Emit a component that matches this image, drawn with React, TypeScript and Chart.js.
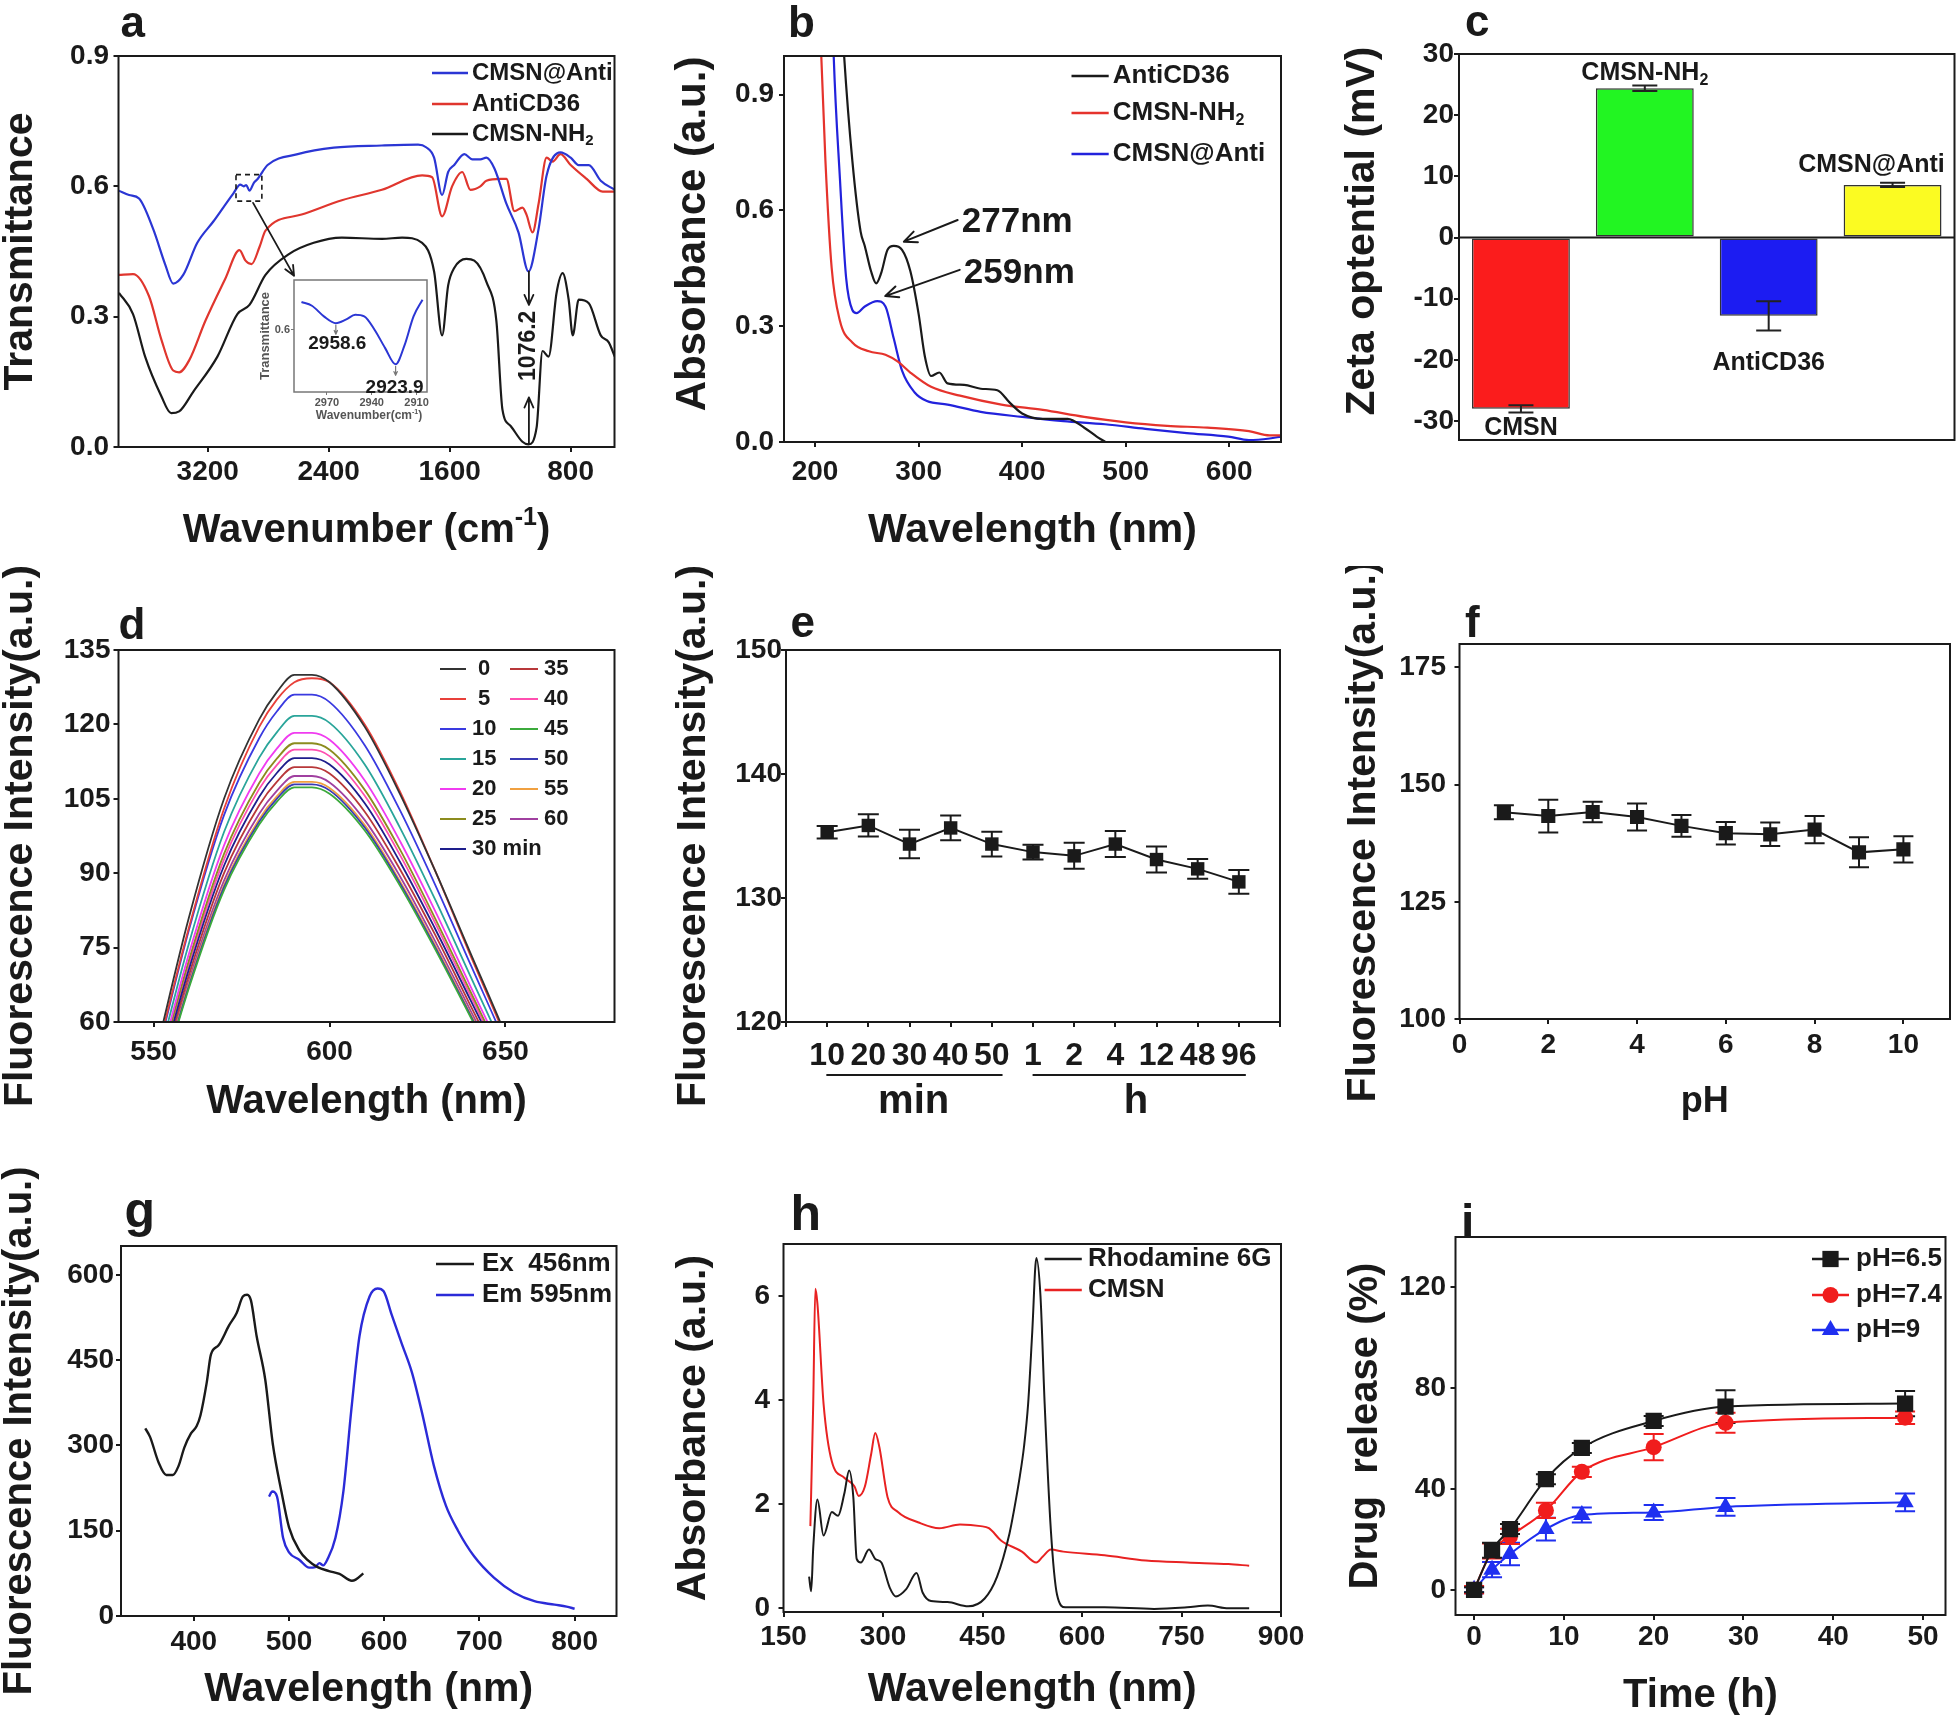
import React, { useEffect, useRef } from 'react';
import { Chart, registerables } from 'chart.js';

Chart.register(...registerables);

const FONT = '"Liberation Sans", Arial, Helvetica, sans-serif';
Chart.defaults.font.family = FONT;
const INK = '#1a1a1a';

/* ============================ DATA ============================ */

// (a) FTIR — wavenumber (cm-1) vs transmittance
const aTickX = [3200, 2400, 1600, 800];
const aTickY = [0, 0.3, 0.6, 0.9];
const aNames = ['CMSN@Anti', 'AntiCD36', 'CMSN-NH2'];
const aBlueX = [3787, 3720, 3654, 3561, 3481, 3428, 3362, 3269, 3163, 3030, 2985, 2962, 2945, 2924, 2895, 2870, 2804, 2605, 2366, 2048, 1809, 1756, 1703, 1650, 1610, 1570, 1503, 1450, 1397, 1357, 1304, 1225, 1145, 1079, 1012, 959, 867, 800, 747, 680, 601, 508];
const aBlueY = [0.59, 0.58, 0.572, 0.502, 0.42, 0.376, 0.396, 0.47, 0.519, 0.584, 0.604, 0.6, 0.603, 0.59, 0.608, 0.617, 0.649, 0.674, 0.689, 0.694, 0.696, 0.69, 0.666, 0.58, 0.633, 0.649, 0.674, 0.662, 0.662, 0.666, 0.641, 0.56, 0.494, 0.404, 0.502, 0.625, 0.678, 0.666, 0.649, 0.649, 0.613, 0.592];
const aRedX = [3787, 3694, 3588, 3508, 3428, 3389, 3322, 3216, 3083, 2990, 2950, 2910, 2857, 2818, 2579, 2313, 2048, 1782, 1716, 1650, 1584, 1517, 1463, 1397, 1357, 1264, 1225, 1172, 1119, 1092, 1052, 1012, 959, 919, 867, 800, 694, 588, 508];
const aRedY = [0.396, 0.398, 0.347, 0.249, 0.176, 0.172, 0.2, 0.29, 0.388, 0.453, 0.429, 0.421, 0.461, 0.498, 0.535, 0.568, 0.592, 0.625, 0.621, 0.531, 0.6, 0.633, 0.592, 0.6, 0.613, 0.617, 0.617, 0.543, 0.551, 0.535, 0.494, 0.56, 0.666, 0.657, 0.674, 0.649, 0.617, 0.588, 0.588];
const aBlackX = [3787, 3694, 3614, 3508, 3442, 3389, 3296, 3136, 3004, 2924, 2818, 2658, 2499, 2313, 2048, 1915, 1782, 1703, 1650, 1610, 1570, 1490, 1437, 1357, 1291, 1251, 1198, 1119, 1079, 1025, 986, 946, 893, 853, 813, 786, 747, 680, 601, 548, 508];
const aBlackY = [0.355, 0.306, 0.208, 0.118, 0.078, 0.082, 0.127, 0.208, 0.306, 0.327, 0.396, 0.445, 0.47, 0.482, 0.479, 0.482, 0.47, 0.404, 0.257, 0.372, 0.412, 0.433, 0.429, 0.38, 0.29, 0.086, 0.049, 0.012, 0.006, 0.045, 0.221, 0.208, 0.355, 0.4, 0.339, 0.257, 0.339, 0.331, 0.257, 0.241, 0.208];
const aPeakLabel = '1076.2';
// (a) inset
const inTickX = [2970, 2940, 2910];
const inTickY = [0.6];
const inX = [2987, 2980, 2972, 2964, 2957, 2951, 2945, 2938, 2931, 2924, 2918, 2912, 2906];
const inY = [0.6185, 0.616, 0.609, 0.6045, 0.607, 0.61, 0.609, 0.6, 0.588, 0.5773, 0.59, 0.609, 0.62];
const inPeakLabels = ['2958.6', '2923.9'];

// (b) UV-vis absorbance
const bTickX = [200, 300, 400, 500, 600];
const bTickY = [0, 0.3, 0.6, 0.9];
const bNames = ['AntiCD36', 'CMSN-NH2', 'CMSN@Anti'];
const bAntiX = [226, 228, 236, 244, 248, 254, 259, 264, 270, 276, 284, 292, 300, 306, 312, 320, 328, 344, 360, 376, 388, 400, 420, 444, 460, 472, 483, 500];
const bAntiY = [1.1, 1.003, 0.729, 0.545, 0.508, 0.443, 0.411, 0.439, 0.498, 0.508, 0.498, 0.443, 0.332, 0.222, 0.171, 0.18, 0.152, 0.148, 0.138, 0.134, 0.102, 0.074, 0.06, 0.06, 0.037, 0.014, -0.005, -0.046];
const bNhX = [205, 206, 210, 216, 224, 236, 252, 268, 280, 292, 312, 340, 380, 420, 460, 500, 540, 579, 619, 639, 650];
const bNhY = [1.1, 1.0, 0.729, 0.452, 0.314, 0.258, 0.235, 0.226, 0.208, 0.18, 0.143, 0.12, 0.097, 0.083, 0.065, 0.051, 0.042, 0.037, 0.028, 0.017, 0.017];
const bConjX = [217, 218, 224, 230, 236, 240, 248, 260, 268, 276, 284, 296, 308, 328, 360, 400, 440, 480, 519, 559, 599, 619, 639, 650];
const bConjY = [1.1, 1.0, 0.683, 0.425, 0.342, 0.334, 0.351, 0.365, 0.351, 0.268, 0.185, 0.129, 0.106, 0.097, 0.078, 0.065, 0.054, 0.046, 0.034, 0.023, 0.014, 0.005, 0.009, 0.014];
const bPeakLabels = ['277nm', '259nm'];

// (c) zeta potential
const cCategories = ['CMSN', 'CMSN-NH2', 'AntiCD36', 'CMSN@Anti'];
const cValues = [-28.0, 24.4, -12.8, 8.6];
const cErrors = [0.6, 0.45, 2.4, 0.35];
const cTickY = [-30, -20, -10, 0, 10, 20, 30];

// (d) fluorescence spectra over time
const dTickX = [550, 600, 650];
const dTickY = [60, 75, 90, 105, 120, 135];
const dLabels = ['0', '5', '10', '15', '20', '25', '30', '35', '40', '45', '50', '55', '60'];
const dX = [540, 550, 560, 570, 580, 585, 590, 595, 600, 610, 620, 630, 640, 650, 660];
const d0 = [24, 52, 81, 105, 121, 126.5, 130, 130, 128.5, 119.5, 106, 90.5, 74, 57.5, 40];
const d5 = [24, 51, 79, 103, 119.5, 125, 128.5, 129.3, 128.5, 120, 106.5, 90.5, 73.5, 57, 40];
const d10 = [23.3, 50.4, 78.5, 101.7, 117.2, 122.6, 126, 126, 124.5, 115.8, 102.7, 87.7, 71.7, 55.7, 38.8];
const d15 = [22.5, 48.7, 75.8, 98.3, 113.3, 118.4, 121.7, 121.7, 120.3, 111.9, 99.2, 84.7, 69.3, 53.8, 37.4];
const d20 = [21.8, 47.3, 73.7, 95.6, 110.1, 115.1, 118.3, 118.3, 116.9, 108.7, 96.5, 82.4, 67.3, 52.3, 36.4];
const d25 = [21.5, 46.5, 72.4, 93.9, 108.2, 113.1, 116.2, 116.2, 114.9, 106.8, 94.8, 80.9, 66.2, 51.4, 35.8];
const d30 = [20.9, 45.3, 70.6, 91.5, 105.4, 110.2, 113.2, 113.2, 111.9, 104.1, 92.3, 78.8, 64.5, 50.1, 34.8];
const d35 = [20.6, 44.6, 69.4, 90, 103.7, 108.4, 111.4, 111.4, 110.1, 102.4, 90.8, 77.6, 63.4, 49.3, 34.3];
const d40 = [21.2, 46, 71.6, 92.8, 107, 111.8, 114.9, 114.9, 113.6, 105.6, 93.7, 80, 65.4, 50.8, 35.4];
const d45 = [19.8, 42.9, 66.8, 86.6, 99.8, 104.4, 107.3, 107.3, 106, 98.6, 87.5, 74.7, 61.1, 47.4, 33];
const d50 = [19.9, 43.2, 67.2, 87.2, 100.4, 105, 107.9, 107.9, 106.7, 99.2, 88, 75.1, 61.4, 47.7, 33.2];
const d55 = [20, 43.4, 67.6, 87.6, 100.9, 105.5, 108.4, 108.4, 107.2, 99.7, 88.4, 75.5, 61.7, 48, 33.4];
const d60 = [20.2, 43.8, 68.3, 88.5, 102, 106.6, 109.6, 109.6, 108.3, 100.7, 89.4, 76.3, 62.4, 48.5, 33.7];
const dSeries = [d0, d5, d10, d15, d20, d25, d30, d35, d40, d45, d50, d55, d60];

// (e) stability over time
const eLabels = ['10', '20', '30', '40', '50', '1', '2', '4', '12', '48', '96'];
const eValues = [135.3, 135.85, 134.35, 135.65, 134.35, 133.7, 133.4, 134.35, 133.1, 132.35, 131.3];
const eErrors = [0.5, 0.9, 1.15, 1.0, 1.0, 0.6, 1.05, 1.05, 1.05, 0.8, 0.95];
const eTickY = [120, 130, 140, 150];
const eGroups = ['min', 'h'];

// (f) stability vs pH
const fPH = [1, 2, 3, 4, 5, 6, 7, 8, 9, 10];
const fValues = [144.1, 143.3, 144.15, 143.1, 141.2, 139.65, 139.4, 140.4, 135.55, 136.2];
const fErrors = [1.5, 3.5, 2.2, 2.9, 2.3, 2.4, 2.5, 2.9, 3.2, 2.8];
const fTickX = [0, 2, 4, 6, 8, 10];
const fTickY = [100, 125, 150, 175];

// (g) excitation / emission
const gTickX = [400, 500, 600, 700, 800];
const gTickY = [0, 150, 300, 450, 600];
const gNames = ['Ex  456nm', 'Em 595nm'];
const gExX = [349, 354, 363, 371, 378, 384, 390, 397, 403, 407, 413.5, 418, 426, 437, 445, 451.5, 456, 460, 466, 475, 483, 492, 500, 511, 519, 530, 542, 553, 566, 570, 578];
const gExY = [330, 315, 270, 248, 248, 264, 296, 321, 334, 353, 410, 460, 476, 511, 533, 562, 565, 555, 492, 416, 302, 219, 156, 115, 99, 86, 79, 74, 62, 64, 75];
const gEmX = [479, 482.4, 487.4, 493.8, 500, 510.7, 521.2, 527.6, 531.8, 536, 540.2, 548.7, 557.1, 565.6, 574, 584.6, 593, 599.4, 607.8, 618.4, 629, 639.5, 652.2, 664.8, 677.5, 694.4, 715.5, 736.6, 757.8, 778.9, 791.6, 800];
const gEmY = [210, 219, 210, 137, 112, 99, 85, 86, 93, 89, 99, 137, 219, 365, 492, 562, 576, 571, 530, 479, 429, 359, 264, 194, 150, 105, 67, 41, 26, 20, 16.5, 12.7];

// (h) absorbance of Rhodamine 6G and CMSN
const hTickX = [150, 300, 450, 600, 750, 900];
const hTickY = [0, 2, 4, 6];
const hNames = ['Rhodamine 6G', 'CMSN'];
const hRhX = [188.6, 191.7, 194.8, 201.1, 210.4, 222.9, 232.2, 241.6, 249, 255.3, 260.3, 266.5, 278.9, 288.3, 297.6, 310.1, 319.4, 335, 350.6, 359.9, 372.4, 397.3, 428.4, 453.3, 472, 490.7, 497, 506.3, 512.5, 518.8, 525, 531.2, 537.4, 543.7, 553, 562.4, 574.8, 634, 708.7, 758.6, 789.7, 820.9, 852];
const hRhY = [0.61, 0.33, 1.16, 2.09, 1.4, 1.85, 1.78, 2.2, 2.65, 2.13, 0.95, 0.88, 1.13, 0.95, 0.88, 0.4, 0.23, 0.37, 0.68, 0.3, 0.14, 0.12, 0.04, 0.19, 0.61, 1.44, 1.85, 2.54, 3.1, 3.93, 5.31, 6.73, 6.0, 3.93, 1.51, 0.26, 0.02, 0.02, -0.01, 0.02, 0.055, 0.0, 0.0];
const hCmX = [190.5, 194.8, 198, 201.1, 210.4, 222.9, 241.6, 257.1, 263.4, 272.7, 282.1, 288.3, 294.5, 307, 322.5, 353.7, 384.8, 416, 447.1, 459.6, 478.3, 509.4, 531.2, 540.6, 553, 571.7, 634, 696.3, 758.6, 820.9, 852];
const hCmY = [1.58, 3.93, 6.14, 5.86, 3.93, 2.82, 2.51, 2.34, 2.16, 2.34, 2.96, 3.37, 3.1, 2.13, 1.85, 1.65, 1.54, 1.61, 1.58, 1.54, 1.3, 1.09, 0.88, 0.99, 1.13, 1.09, 1.02, 0.92, 0.88, 0.85, 0.82];

// (i) drug release
const iTickX = [0, 10, 20, 30, 40, 50];
const iTickY = [0, 40, 80, 120];
const iNames = ['pH=6.5', 'pH=7.4', 'pH=9'];
const iTime = [0, 2, 4, 8, 12, 20, 28, 48];
const iPH65 = [0, 15.7, 24.1, 43.9, 56.3, 67.0, 72.7, 73.9];
const iPH74 = [0, 15.4, 21.2, 31.5, 46.8, 56.6, 66.3, 68.3];
const iPH9 = [0, 8.0, 14.2, 24.1, 29.7, 30.7, 32.9, 34.7];
const iErr65 = [1, 3, 2, 2, 2, 2, 6.5, 5];
const iErr74 = [1.5, 3, 3, 3, 2, 5.2, 4, 2.5];
const iErr9 = [1, 3, 4.5, 4.5, 3, 3, 3.5, 3.5];

/* ============================ HELPERS ============================ */

type Box = { x: number; y: number; w: number; h: number };
type Plot = { l: number; t: number; r: number; b: number };

const xy = (xs: number[], ys: number[]) => xs.map((x, i) => ({ x, y: ys[i] }));

function setFont(ctx: any, size: number) {
  ctx.font = `bold ${size}px ${FONT}`;
}

function txt(ctx: any, s: string, x: number, y: number, size: number, o: any = {}) {
  ctx.save();
  setFont(ctx, size);
  ctx.fillStyle = o.color || INK;
  ctx.textAlign = o.align || 'left';
  ctx.textBaseline = o.baseline || 'middle';
  ctx.translate(x, y);
  if (o.rotate) ctx.rotate(o.rotate);
  ctx.fillText(s, 0, 0);
  ctx.restore();
}

function chem(name: string) {
  const m = /^(.*[A-Z])(\d)$/.exec(name);
  return m ? [{ t: m[1] }, { t: m[2], sub: true }] : [{ t: name }];
}

function rich(ctx: any, parts: any[], x: number, y: number, size: number, align = 'left', color = INK) {
  ctx.save();
  ctx.fillStyle = color;
  ctx.textBaseline = 'middle';
  ctx.textAlign = 'left';
  const sm = Math.round(size * 0.62);
  const ws = parts.map((p) => {
    setFont(ctx, p.sub || p.sup ? sm : size);
    return ctx.measureText(p.t).width;
  });
  const total = ws.reduce((a: number, b: number) => a + b, 0);
  let cx = align === 'center' ? x - total / 2 : align === 'right' ? x - total : x;
  parts.forEach((p, i) => {
    setFont(ctx, p.sub || p.sup ? sm : size);
    ctx.fillText(p.t, cx, y + (p.sub ? size * 0.28 : p.sup ? -size * 0.32 : 0));
    cx += ws[i];
  });
  ctx.restore();
}

function arrow(ctx: any, x1: number, y1: number, x2: number, y2: number, head = 12, lw = 2, color = INK) {
  ctx.save();
  ctx.strokeStyle = color;
  ctx.lineWidth = lw;
  ctx.lineCap = 'round';
  ctx.lineJoin = 'round';
  ctx.beginPath();
  ctx.moveTo(x1, y1);
  ctx.lineTo(x2, y2);
  const a = Math.atan2(y2 - y1, x2 - x1);
  const k = 0.42;
  ctx.moveTo(x2 - head * Math.cos(a - k), y2 - head * Math.sin(a - k));
  ctx.lineTo(x2, y2);
  ctx.lineTo(x2 - head * Math.cos(a + k), y2 - head * Math.sin(a + k));
  ctx.stroke();
  ctx.restore();
}

function seg(ctx: any, x1: number, y1: number, x2: number, y2: number, color = INK, lw = 2.5) {
  ctx.save();
  ctx.strokeStyle = color;
  ctx.lineWidth = lw;
  ctx.beginPath();
  ctx.moveTo(x1, y1);
  ctx.lineTo(x2, y2);
  ctx.stroke();
  ctx.restore();
}

function marker(ctx: any, style: string, x: number, y: number, r: number, color: string) {
  ctx.save();
  ctx.fillStyle = color;
  ctx.beginPath();
  if (style === 'rect') {
    const s = Math.SQRT1_2 * r;
    ctx.rect(x - s, y - s, 2 * s, 2 * s);
  } else if (style === 'triangle') {
    for (let k = 0; k < 3; k++) {
      const ang = (k * 2 * Math.PI) / 3;
      const px = x + Math.sin(ang) * r;
      const py = y - Math.cos(ang) * r;
      if (k === 0) ctx.moveTo(px, py);
      else ctx.lineTo(px, py);
    }
    ctx.closePath();
  } else {
    ctx.arc(x, y, r, 0, Math.PI * 2);
  }
  ctx.fill();
  ctx.restore();
}

function errBars(chart: any, dsIndex: number, errs: number[], cap: number, color = INK, lw = 2) {
  const meta = chart.getDatasetMeta(dsIndex);
  const ys = chart.scales.y;
  const ctx = chart.ctx;
  const data = chart.data.datasets[dsIndex].data;
  ctx.save();
  ctx.strokeStyle = color;
  ctx.lineWidth = lw;
  meta.data.forEach((el: any, j: number) => {
    const d = data[j];
    const v = typeof d === 'number' ? d : d.y;
    const e = errs[j];
    if (!e) return;
    const x = el.x;
    const y1 = ys.getPixelForValue(v + e);
    const y2 = ys.getPixelForValue(v - e);
    ctx.beginPath();
    ctx.moveTo(x, y1);
    ctx.lineTo(x, y2);
    ctx.moveTo(x - cap / 2, y1);
    ctx.lineTo(x + cap / 2, y1);
    ctx.moveTo(x - cap / 2, y2);
    ctx.lineTo(x + cap / 2, y2);
    ctx.stroke();
  });
  ctx.restore();
}

const frame = (color = INK, lw = 2) => ({
  id: 'frame',
  afterDatasetsDraw(chart: any) {
    const { ctx, chartArea: a } = chart;
    ctx.save();
    ctx.strokeStyle = color;
    ctx.lineWidth = lw;
    ctx.strokeRect(a.left, a.top, a.right - a.left, a.bottom - a.top);
    ctx.restore();
  },
});

function baseOpts(box: Box, plot: Plot, wy: number, hx: number, scales: any) {
  return {
    responsive: false,
    maintainAspectRatio: false,
    animation: false,
    devicePixelRatio: 1,
    events: [],
    layout: {
      padding: {
        left: plot.l - box.x - wy,
        top: plot.t - box.y,
        right: box.x + box.w - plot.r,
        bottom: box.y + box.h - plot.b - hx,
      },
    },
    plugins: { legend: { display: false }, tooltip: { enabled: false }, title: { display: false } },
    scales,
  };
}

function axis(o: any, vertical: boolean) {
  const color = o.color || INK;
  const lw = o.lw ?? 2;
  return {
    type: 'linear',
    position: vertical ? 'left' : 'bottom',
    min: o.min,
    max: o.max,
    reverse: !!o.reverse,
    afterBuildTicks: (s: any) => {
      s.ticks = o.ticks.map((v: number) => ({ value: v }));
    },
    afterFit: (s: any) => {
      if (vertical) s.width = o.width;
      else s.height = o.height;
    },
    ticks: {
      autoSkip: false,
      maxRotation: 0,
      minRotation: 0,
      padding: o.pad,
      color,
      font: { family: FONT, size: o.size || 28, weight: 'bold', lineHeight: 1 },
      callback: o.fmt || ((v: number) => String(v)),
    },
    grid: { display: true, drawOnChartArea: false, drawTicks: true, tickLength: o.tl ?? 5, color: o.gridColor || INK, lineWidth: lw, tickWidth: lw },
    border: { display: false },
    title: o.title
      ? { display: true, text: o.title, color, padding: 0, font: { family: FONT, size: o.titleSize || 40, weight: 'bold', lineHeight: 1 } }
      : { display: false },
  };
}
const yLin = (o: any) => axis(o, true);
const xLin = (o: any) => axis(o, false);

const lineDs = (data: any[], color: string, lw = 2.2) => ({
  data,
  borderColor: color,
  backgroundColor: color,
  borderWidth: lw,
  pointRadius: 0,
  fill: false,
  cubicInterpolationMode: 'monotone',
});

const fix1 = (v: number) => v.toFixed(1);

/* ============================ PANELS ============================ */

const A_BLUE = '#2b36d4';
const A_RED = '#e0362e';

const BOX_A: Box = { x: 0, y: 0, w: 650, h: 562 };
const PLOT_A: Plot = { l: 118.5, t: 56, r: 614.5, b: 447 };
function configA() {
  const box = BOX_A, plot = PLOT_A;
  return {
    type: 'line',
    data: {
      datasets: [
        lineDs(xy(aBlueX, aBlueY), A_BLUE),
        lineDs(xy(aRedX, aRedY), A_RED),
        lineDs(xy(aBlackX, aBlackY), INK),
      ],
    },
    options: baseOpts(box, plot, 118.5, 104, {
      x: xLin({ min: 510, max: 3790, reverse: true, ticks: aTickX, pad: 6, height: 104 }),
      y: yLin({ min: 0, max: 0.9, ticks: aTickY, fmt: fix1, pad: 4.5, width: 118.5, title: 'Transmittance', titleSize: 41 }),
    }),
    plugins: [
      frame(),
      {
        id: 'decoA',
        afterDraw(chart: any) {
          const ctx = chart.ctx;
          const X = (v: number) => chart.scales.x.getPixelForValue(v);
          const Y = (v: number) => chart.scales.y.getPixelForValue(v);
          const ox = box.x, oy = box.y;
          txt(ctx, 'a', 120.5 - ox, 37 - oy, 44, { baseline: 'alphabetic' });
          const cols = [A_BLUE, A_RED, INK];
          const rows = [73, 104, 134];
          aNames.forEach((n, k) => {
            seg(ctx, 432 - ox, rows[k] - oy, 468 - ox, rows[k] - oy, cols[k], 2.5);
            rich(ctx, chem(n), 472 - ox, rows[k] - oy, 24);
          });
          rich(ctx, [{ t: 'Wavenumber (cm' }, { t: '-1', sup: true }, { t: ')' }], (plot.l + plot.r) / 2 - ox, 531 - oy, 40, 'center');
          ctx.save();
          ctx.setLineDash([5, 4]);
          ctx.strokeStyle = INK;
          ctx.lineWidth = 1.6;
          ctx.strokeRect(X(3013), Y(0.627), X(2842) - X(3013), Y(0.566) - Y(0.627));
          ctx.restore();
          arrow(ctx, X(2900), Y(0.562), X(2629), Y(0.394), 11, 1.8);
          txt(ctx, aPeakLabel, X(1076), Y(0.233), 23, { align: 'center', rotate: -Math.PI / 2 });
          arrow(ctx, X(1076), Y(0.404), X(1076), Y(0.327), 11, 1.8);
          arrow(ctx, X(1076), Y(0.008), X(1076), Y(0.114), 11, 1.8);
        },
      },
    ],
  };
}

const BOX_IN: Box = { x: 250, y: 268, w: 190, h: 158 };
const PLOT_IN: Plot = { l: 294, t: 280, r: 427, b: 392 };
function configInset() {
  const box = BOX_IN, plot = PLOT_IN;
  const GRAY = '#555';
  return {
    type: 'line',
    data: { datasets: [lineDs(xy(inX, inY), A_BLUE, 2)] },
    options: baseOpts(box, plot, 35.5, 30, {
      x: xLin({ min: 2903, max: 2992, reverse: true, ticks: inTickX, pad: 2.5, height: 30, size: 11, color: GRAY, gridColor: '#777', lw: 1, tl: 3 }),
      y: yLin({ min: 0.559, max: 0.633, ticks: inTickY, fmt: fix1, pad: 1, width: 35.5, size: 11, color: GRAY, gridColor: '#777', lw: 1, tl: 3, title: 'Transmittance', titleSize: 13 }),
    }),
    plugins: [
      frame('#777', 1.5),
      {
        id: 'decoIn',
        afterDraw(chart: any) {
          const ctx = chart.ctx;
          const X = (v: number) => chart.scales.x.getPixelForValue(v);
          const Y = (v: number) => chart.scales.y.getPixelForValue(v);
          const ox = box.x, oy = box.y;
          rich(ctx, [{ t: 'Wavenumber(cm' }, { t: '-1', sup: true }, { t: ')' }], 369 - ox, 416 - oy, 12, 'center', GRAY);
          arrow(ctx, X(2964), Y(0.6045) + 2, X(2964), Y(0.6045) + 11, 4, 1.2, '#777');
          arrow(ctx, X(2924), Y(0.5773) + 2, X(2924), Y(0.5773) + 11, 4, 1.2, '#777');
          txt(ctx, inPeakLabels[0], X(2963), Y(0.6045) + 21, 19, { align: 'center' });
          txt(ctx, inPeakLabels[1], X(2924) - 1, Y(0.5773) + 23, 19, { align: 'center' });
        },
      },
    ],
  };
}

const B_RED = '#e5332c';
const B_BLUE = '#2222dc';
const BOX_B: Box = { x: 650, y: 0, w: 670, h: 562 };
const PLOT_B: Plot = { l: 784, t: 56, r: 1281, b: 442 };
function configB() {
  const box = BOX_B, plot = PLOT_B;
  return {
    type: 'line',
    data: {
      datasets: [
        lineDs(xy(bAntiX, bAntiY), INK),
        lineDs(xy(bNhX, bNhY), B_RED),
        lineDs(xy(bConjX, bConjY), B_BLUE),
      ],
    },
    options: baseOpts(box, plot, 111, 109, {
      x: xLin({ min: 170, max: 650, ticks: bTickX, pad: 11, height: 109, title: 'Wavelength (nm)', titleSize: 41 }),
      y: yLin({ min: 0, max: 1.0, ticks: bTickY, fmt: fix1, pad: 5, width: 111 }),
    }),
    plugins: [
      frame(),
      {
        id: 'decoB',
        afterDraw(chart: any) {
          const ctx = chart.ctx;
          const X = (v: number) => chart.scales.x.getPixelForValue(v);
          const Y = (v: number) => chart.scales.y.getPixelForValue(v);
          const ox = box.x, oy = box.y;
          txt(ctx, 'b', 788 - ox, 37 - oy, 44, { baseline: 'alphabetic' });
          txt(ctx, 'Absorbance (a.u.)', 693 - ox, 234 - oy, 42, { align: 'center', rotate: -Math.PI / 2 });
          const cols = [INK, B_RED, B_BLUE];
          const rows = [76, 113, 154];
          bNames.forEach((n, k) => {
            seg(ctx, 1071.5 - ox, rows[k] - oy, 1108.7 - ox, rows[k] - oy, cols[k], 2.5);
            rich(ctx, chem(n), 1112.8 - ox, rows[k] - oy, 26);
          });
          arrow(ctx, X(337.7), Y(0.575), X(285.8), Y(0.519), 14, 2);
          arrow(ctx, X(339.7), Y(0.446), X(267.8), Y(0.378), 14, 2);
          txt(ctx, bPeakLabels[0], X(341.7), Y(0.568), 35);
          txt(ctx, bPeakLabels[1], X(343.7), Y(0.438), 35);
        },
      },
    ],
  };
}

const C_COLORS = ['#fb1c1c', '#22f522', '#1c1cf2', '#fbfb22'];
const BOX_C: Box = { x: 1310, y: 0, w: 650, h: 562 };
const PLOT_C: Plot = { l: 1459, t: 54, r: 1954.5, b: 440 };
function configC() {
  const box = BOX_C, plot = PLOT_C;
  return {
    type: 'bar',
    data: {
      labels: cCategories,
      datasets: [
        {
          data: cValues,
          backgroundColor: C_COLORS,
          borderColor: '#333',
          borderWidth: 1.5,
          borderSkipped: false,
          barPercentage: 0.79,
          categoryPercentage: 1,
        },
      ],
    },
    options: baseOpts(box, plot, 116, 10, {
      x: {
        type: 'category',
        position: 'bottom',
        afterFit: (s: any) => {
          s.height = 10;
        },
        ticks: { display: false },
        grid: { display: false },
        border: { display: false },
      },
      y: yLin({ min: -33.1, max: 30, ticks: cTickY, pad: 0, width: 116 }),
    }),
    plugins: [
      frame(),
      {
        id: 'decoC',
        afterDatasetsDraw(chart: any) {
          const ctx = chart.ctx;
          const a = chart.chartArea;
          const Y = (v: number) => chart.scales.y.getPixelForValue(v);
          seg(ctx, a.left, Y(0), a.right, Y(0), INK, 2);
          errBars(chart, 0, cErrors, 25, '#222', 2);
        },
        afterDraw(chart: any) {
          const ctx = chart.ctx;
          const X = (v: number) => chart.scales.x.getPixelForValue(v);
          const Y = (v: number) => chart.scales.y.getPixelForValue(v);
          const ox = box.x, oy = box.y;
          txt(ctx, 'c', 1465 - ox, 36 - oy, 44, { baseline: 'alphabetic' });
          txt(ctx, 'Zeta optential (mV)', 1363 - ox, 231 - oy, 41, { align: 'center', rotate: -Math.PI / 2 });
          const pos = [
            [0, -31.1],
            [1, 26.8],
            [2, -20.5],
            [2.83, 11.9],
          ];
          cCategories.forEach((n, k) => {
            rich(ctx, chem(n), X(pos[k][0]), Y(pos[k][1]), 25, 'center');
          });
        },
      },
    ],
  };
}

const D_COLORS = ['#333333', '#e8403a', '#3a3ae0', '#2aa59a', '#f03cf0', '#8c8c1e', '#1e1e8c', '#b8383a', '#ff4fb0', '#3caa3c', '#3a3ab4', '#f0a040', '#a040a0'];
const BOX_D: Box = { x: 0, y: 566, w: 650, h: 574 };
const PLOT_D: Plot = { l: 118.5, t: 650, r: 614.5, b: 1022 };
function configD() {
  const box = BOX_D, plot = PLOT_D;
  return {
    type: 'line',
    data: { datasets: dSeries.map((s, k) => lineDs(xy(dX, s), D_COLORS[k], 1.8)) },
    options: baseOpts(box, plot, 118.5, 100, {
      x: xLin({ min: 540, max: 681, ticks: dTickX, pad: 11, height: 100, title: 'Wavelength (nm)' }),
      y: yLin({ min: 60, max: 135, ticks: dTickY, pad: 3, width: 118.5, title: 'Fluorescence Intensity(a.u.)', titleSize: 41 }),
    }),
    plugins: [
      frame(),
      {
        id: 'decoD',
        afterDraw(chart: any) {
          const ctx = chart.ctx;
          const ox = box.x, oy = box.y;
          txt(ctx, 'd', 118.5 - ox, 639 - oy, 44, { baseline: 'alphabetic' });
          dLabels.forEach((lab, k) => {
            const col = k < 7 ? 0 : 1;
            const row = k < 7 ? k : k - 7;
            const y = 669 + 30 * row - oy;
            const x1 = col === 0 ? 440 : 510;
            const x2 = col === 0 ? 466 : 538;
            const tx = col === 0 ? 472 : 544;
            let t = lab.length === 1 ? ' ' + lab : lab;
            if (k === 6) t = lab + ' min';
            seg(ctx, x1 - ox, y, x2 - ox, y, D_COLORS[k], 2);
            txt(ctx, t, tx - ox, y, 22);
          });
        },
      },
    ],
  };
}

const BOX_E: Box = { x: 650, y: 566, w: 670, h: 574 };
const PLOT_E: Plot = { l: 786, t: 650, r: 1280, b: 1022 };
function configE() {
  const box = BOX_E, plot = PLOT_E;
  const idxTicks = [-1, 0, 1, 2, 3, 4, 5, 6, 7, 8, 9, 10, 11];
  return {
    type: 'line',
    data: {
      datasets: [
        {
          data: eValues.map((v, i) => ({ x: i, y: v })),
          borderColor: INK,
          borderWidth: 2,
          pointStyle: 'rect',
          pointRadius: 9.5,
          pointBackgroundColor: INK,
          pointBorderColor: INK,
          pointBorderWidth: 0,
          tension: 0,
        },
      ],
    },
    options: baseOpts(box, plot, 113, 100, {
      x: xLin({
        min: -1,
        max: 11,
        ticks: idxTicks,
        pad: 13,
        height: 100,
        size: 32,
        fmt: (v: number) => {
          const i = Math.round(v);
          return i >= 0 && i < eLabels.length ? eLabels[i] : '';
        },
      }),
      y: yLin({ min: 120, max: 150, ticks: eTickY, pad: -1, width: 113, title: 'Fluorescence Intensity(a.u.)', titleSize: 41 }),
    }),
    plugins: [
      frame(),
      {
        id: 'decoE',
        beforeDatasetsDraw(chart: any) {
          errBars(chart, 0, eErrors, 21, INK, 2);
        },
        afterDraw(chart: any) {
          const ctx = chart.ctx;
          const X = (v: number) => chart.scales.x.getPixelForValue(v);
          const yb = chart.chartArea.bottom;
          const ox = box.x, oy = box.y;
          txt(ctx, 'e', 790.5 - ox, 637 - oy, 44, { baseline: 'alphabetic' });
          seg(ctx, X(-0.02), yb + 53, X(4.26), yb + 53, INK, 2);
          seg(ctx, X(4.99), yb + 53, X(10.17), yb + 53, INK, 2);
          txt(ctx, eGroups[0], X(2.1), yb + 80, 40, { align: 'center' });
          txt(ctx, eGroups[1], X(7.5), yb + 80, 40, { align: 'center' });
        },
      },
    ],
  };
}

const BOX_F: Box = { x: 1310, y: 566, w: 650, h: 574 };
const PLOT_F: Plot = { l: 1459.5, t: 644, r: 1954.5, b: 1019 };
function configF() {
  const box = BOX_F, plot = PLOT_F;
  return {
    type: 'line',
    data: {
      datasets: [
        {
          data: xy(fPH, fValues),
          borderColor: INK,
          borderWidth: 2,
          pointStyle: 'rect',
          pointRadius: 10,
          pointBackgroundColor: INK,
          pointBorderColor: INK,
          pointBorderWidth: 0,
          tension: 0,
        },
      ],
    },
    options: baseOpts(box, plot, 116.5, 101, {
      x: xLin({ min: 0, max: 11.05, ticks: fTickX, pad: 7, height: 101, title: 'pH', titleSize: 36 }),
      y: yLin({ min: 100, max: 180, ticks: fTickY, pad: 8.5, width: 116.5, title: 'Fluorescence Intensity(a.u.)', titleSize: 41 }),
    }),
    plugins: [
      frame(),
      {
        id: 'decoF',
        beforeDatasetsDraw(chart: any) {
          errBars(chart, 0, fErrors, 20, INK, 2);
        },
        afterDraw(chart: any) {
          txt(chart.ctx, 'f', 1465 - box.x, 637 - box.y, 44, { baseline: 'alphabetic' });
        },
      },
    ],
  };
}

const G_BLUE = '#2b2bd8';
const BOX_G: Box = { x: 0, y: 1150, w: 650, h: 568 };
const PLOT_G: Plot = { l: 121, t: 1246, r: 616.5, b: 1616 };
function configG() {
  const box = BOX_G, plot = PLOT_G;
  return {
    type: 'line',
    data: { datasets: [lineDs(xy(gExX, gExY), INK, 2.4), lineDs(xy(gEmX, gEmY), G_BLUE, 2.4)] },
    options: baseOpts(box, plot, 121, 94, {
      x: xLin({ min: 323.5, max: 844, ticks: gTickX, pad: 7, height: 94, title: 'Wavelength (nm)', titleSize: 41 }),
      y: yLin({ min: 0, max: 650.7, ticks: gTickY, pad: 2, width: 121, title: 'Fluorescence Intensity(a.u.)' }),
    }),
    plugins: [
      frame(),
      {
        id: 'decoG',
        afterDraw(chart: any) {
          const ctx = chart.ctx;
          const ox = box.x, oy = box.y;
          txt(ctx, 'g', 124.5 - ox, 1227 - oy, 50, { baseline: 'alphabetic' });
          const cols = [INK, G_BLUE];
          const rows = [1264, 1295];
          gNames.forEach((n, k) => {
            seg(ctx, 436 - ox, rows[k] - oy, 474 - ox, rows[k] - oy, cols[k], 2.5);
            txt(ctx, n, 482 - ox, rows[k] - oy, 26);
          });
        },
      },
    ],
  };
}

const H_RED = '#e82222';
const BOX_H: Box = { x: 650, y: 1150, w: 670, h: 568 };
const PLOT_H: Plot = { l: 783.5, t: 1244, r: 1281, b: 1612 };
function configH() {
  const box = BOX_H, plot = PLOT_H;
  return {
    type: 'line',
    data: { datasets: [lineDs(xy(hRhX, hRhY), INK, 2), lineDs(xy(hCmX, hCmY), H_RED, 2)] },
    options: baseOpts(box, plot, 110.5, 98, {
      x: xLin({ min: 150, max: 900, ticks: hTickX, pad: 6, height: 98, title: 'Wavelength (nm)', titleSize: 41 }),
      y: yLin({ min: -0.07, max: 7.0, ticks: hTickY, pad: 8.5, width: 110.5, title: 'Absorbance (a.u.)', titleSize: 41 }),
    }),
    plugins: [
      frame(),
      {
        id: 'decoH',
        afterDraw(chart: any) {
          const ctx = chart.ctx;
          const ox = box.x, oy = box.y;
          txt(ctx, 'h', 790.5 - ox, 1230 - oy, 50, { baseline: 'alphabetic' });
          const cols = [INK, H_RED];
          const rows = [1259, 1290];
          hNames.forEach((n, k) => {
            seg(ctx, 1044.6 - ox, rows[k] - oy, 1081.8 - ox, rows[k] - oy, cols[k], 2.5);
            txt(ctx, n, 1088 - ox, rows[k] - oy, 26);
          });
        },
      },
    ],
  };
}

const I_RED = '#f01d1d';
const I_BLUE = '#1f2ff0';
const BOX_I: Box = { x: 1310, y: 1150, w: 650, h: 568 };
const PLOT_I: Plot = { l: 1455.5, t: 1237, r: 1945.5, b: 1615 };
function configI() {
  const box = BOX_I, plot = PLOT_I;
  const styles = ['rect', 'circle', 'triangle'];
  const radii = [11.5, 8, 10];
  const cols = [INK, I_RED, I_BLUE];
  const series = [iPH65, iPH74, iPH9];
  return {
    type: 'line',
    data: {
      datasets: series.map((s, k) => ({
        data: xy(iTime, s),
        borderColor: cols[k],
        backgroundColor: cols[k],
        borderWidth: 2,
        pointStyle: styles[k],
        pointRadius: radii[k],
        pointBackgroundColor: cols[k],
        pointBorderColor: cols[k],
        pointBorderWidth: 0,
        cubicInterpolationMode: 'monotone',
      })),
    },
    options: baseOpts(box, plot, 109.5, 101, {
      x: xLin({ min: -2.07, max: 52.5, ticks: iTickX, pad: 3, height: 101, title: 'Time (h)' }),
      y: yLin({ min: -10, max: 140, ticks: iTickY, pad: 4.5, width: 109.5, title: 'Drug  release (%)' }),
    }),
    plugins: [
      frame(),
      {
        id: 'decoI',
        beforeDatasetsDraw(chart: any) {
          errBars(chart, 2, iErr9, 20, I_BLUE, 2);
          errBars(chart, 1, iErr74, 20, I_RED, 2);
          errBars(chart, 0, iErr65, 20, INK, 2);
        },
        afterDraw(chart: any) {
          const ctx = chart.ctx;
          const ox = box.x, oy = box.y;
          txt(ctx, 'i', 1461 - ox, 1238 - oy, 48, { baseline: 'alphabetic' });
          const rows = [1259, 1295, 1330];
          iNames.forEach((n, k) => {
            seg(ctx, 1812 - ox, rows[k] - oy, 1849 - ox, rows[k] - oy, cols[k], 2.5);
            marker(ctx, styles[k], 1830.5 - ox, rows[k] - oy, radii[k], cols[k]);
            txt(ctx, n, 1856 - ox, rows[k] - oy, 26);
          });
        },
      },
    ],
  };
}

/* ============================ COMPONENTS ============================ */

function ChartCanvas({ box, build }: { box: Box; build: () => any }) {
  const ref = useRef<HTMLCanvasElement | null>(null);
  useEffect(() => {
    const canvas = ref.current;
    if (!canvas) return;
    const chart = new Chart(canvas, build() as any);
    return () => chart.destroy();
  }, []);
  return (
    <canvas
      ref={ref}
      width={box.w}
      height={box.h}
      style={{ position: 'absolute', left: box.x, top: box.y, width: box.w, height: box.h }}
    />
  );
}

export default function App() {
  return (
    <div
      style={{
        position: 'fixed',
        left: 0,
        top: 0,
        width: 1960,
        height: 1718,
        background: '#ffffff',
        overflow: 'hidden',
      }}
    >
      <ChartCanvas box={BOX_A} build={configA} />
      <ChartCanvas box={BOX_IN} build={configInset} />
      <ChartCanvas box={BOX_B} build={configB} />
      <ChartCanvas box={BOX_C} build={configC} />
      <ChartCanvas box={BOX_D} build={configD} />
      <ChartCanvas box={BOX_E} build={configE} />
      <ChartCanvas box={BOX_F} build={configF} />
      <ChartCanvas box={BOX_G} build={configG} />
      <ChartCanvas box={BOX_H} build={configH} />
      <ChartCanvas box={BOX_I} build={configI} />
    </div>
  );
}
